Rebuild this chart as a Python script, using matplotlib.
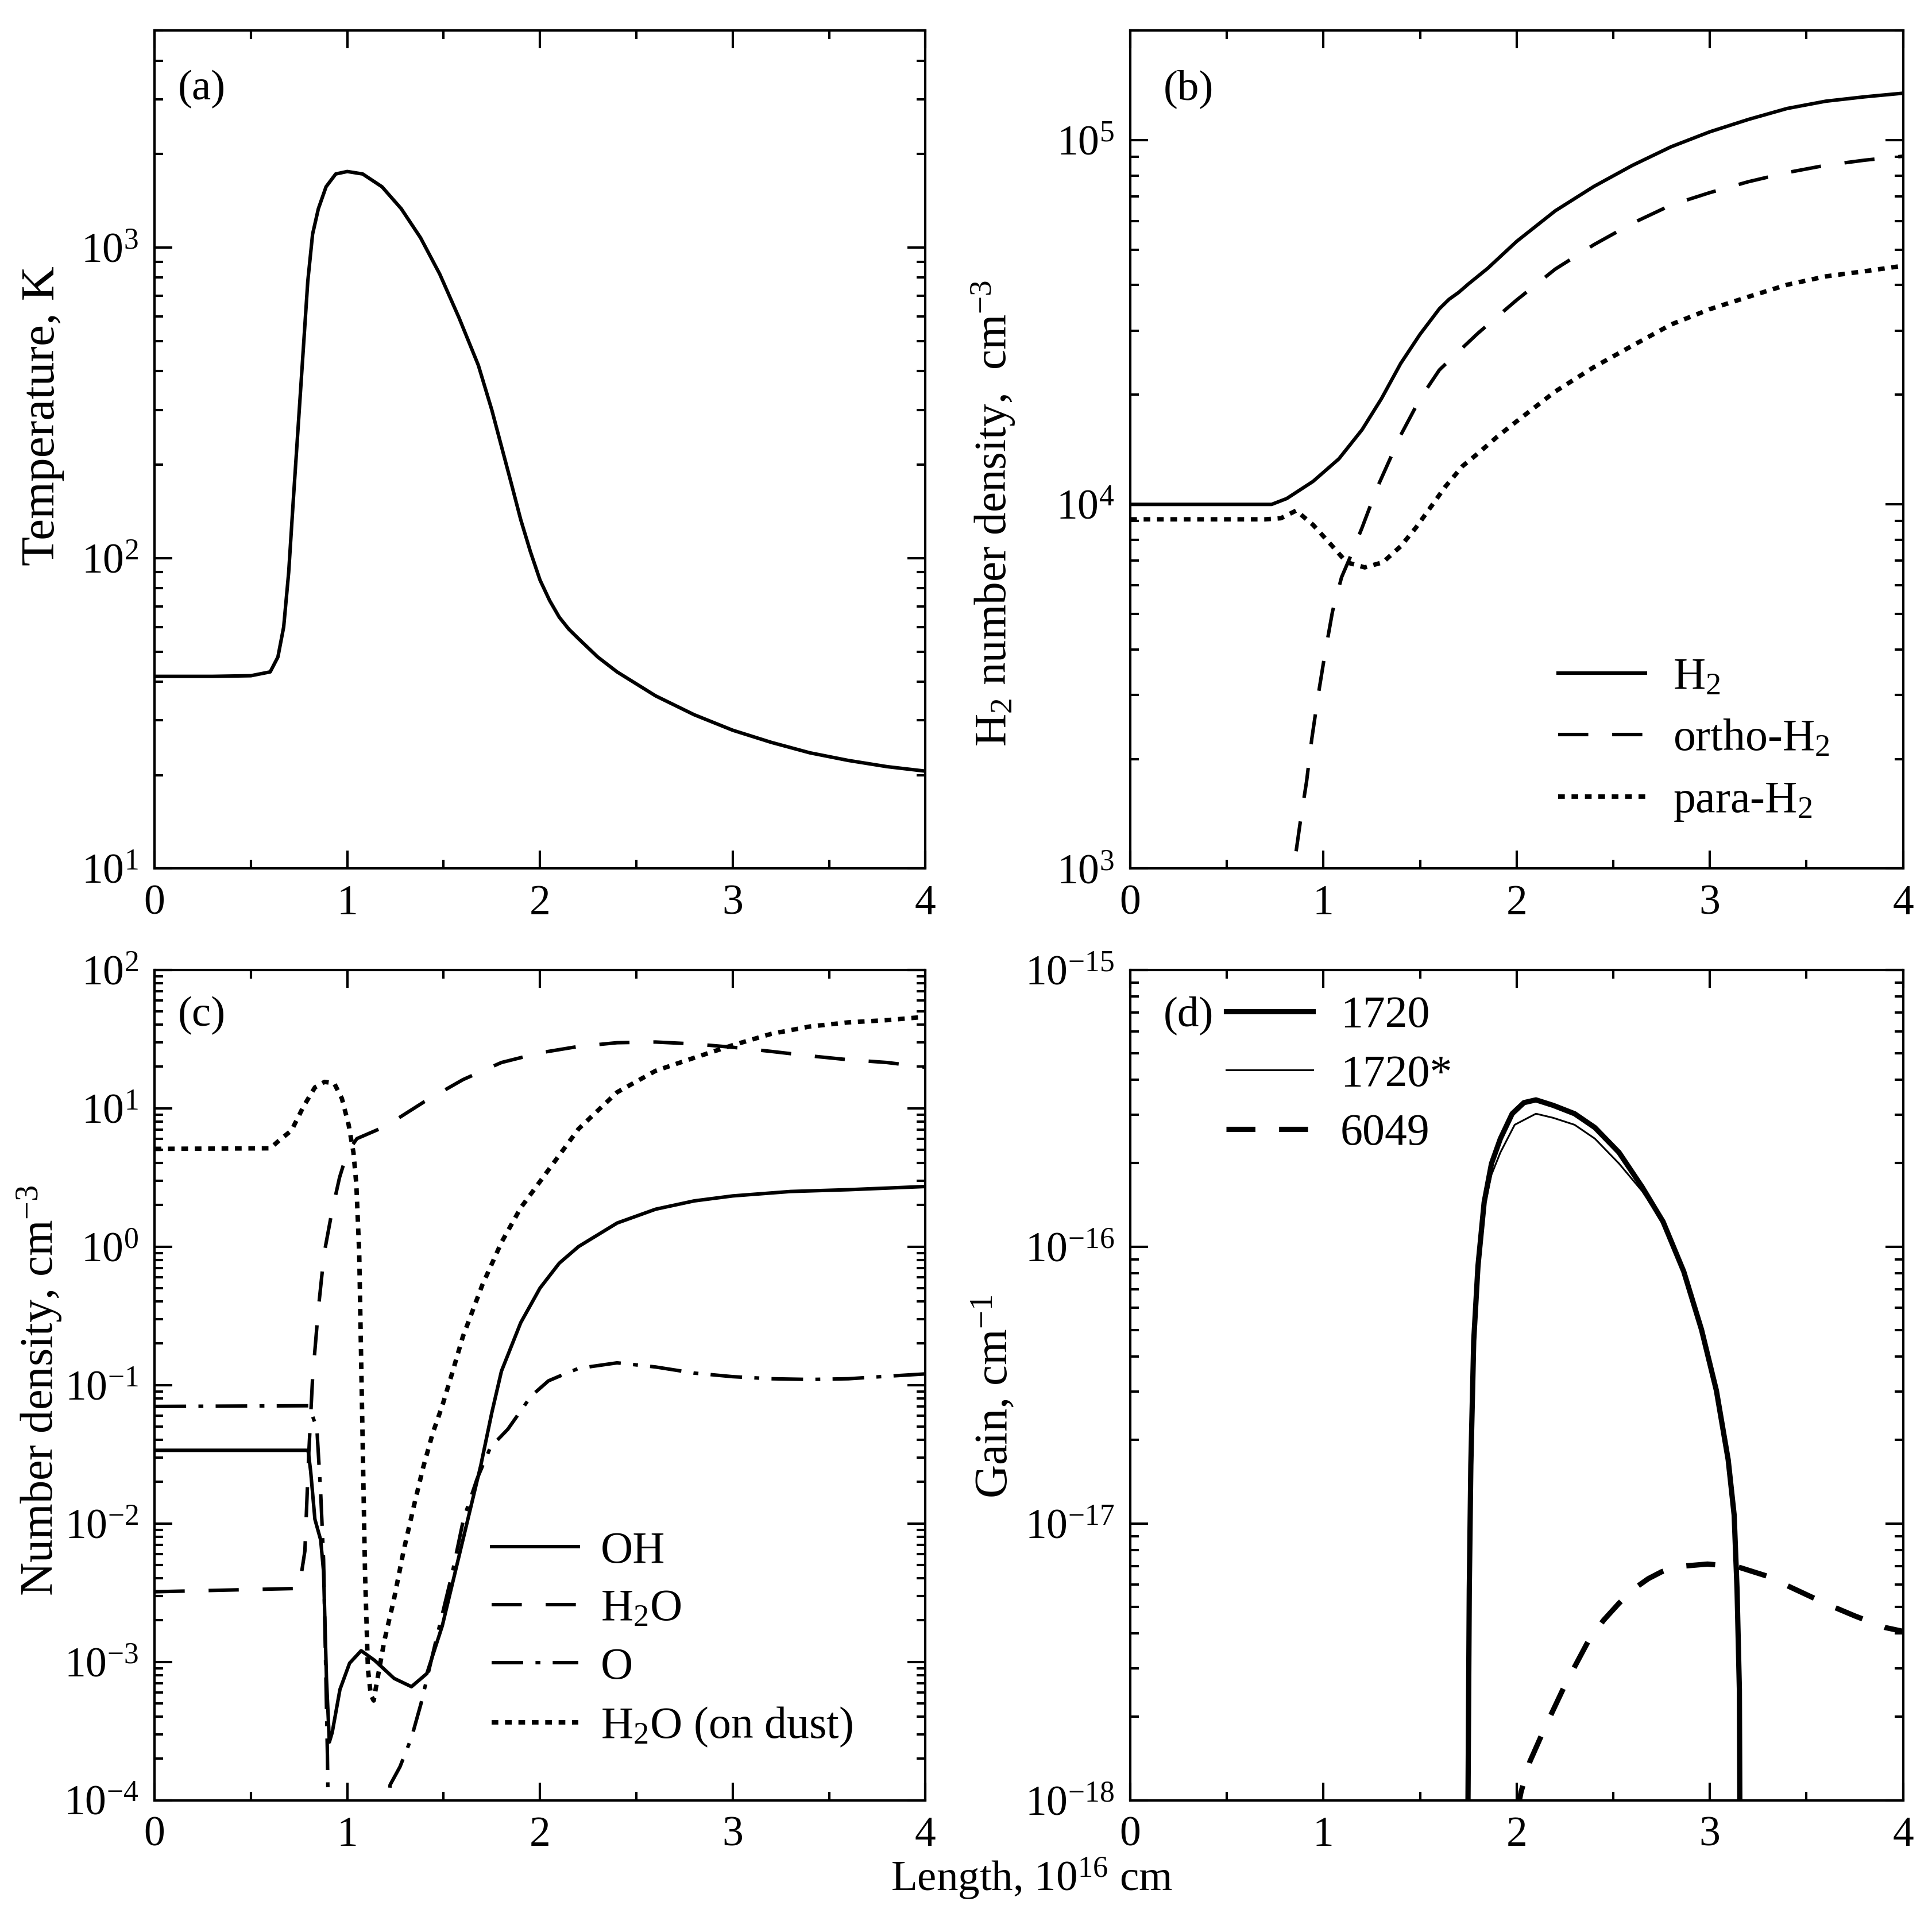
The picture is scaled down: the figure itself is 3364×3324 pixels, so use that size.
import numpy as np
import matplotlib
matplotlib.use("Agg")
import matplotlib.pyplot as plt
from matplotlib.ticker import MultipleLocator, LogLocator, NullFormatter

plt.rcParams['font.family'] = ['Liberation Serif', 'DejaVu Serif']
plt.rcParams['mathtext.fontset'] = 'custom'
plt.rcParams['mathtext.rm'] = 'Liberation Serif'
plt.rcParams['mathtext.it'] = 'Liberation Serif:italic'
plt.rcParams['mathtext.bf'] = 'Liberation Serif:bold'
plt.rcParams['font.size'] = 27
plt.rcParams['axes.linewidth'] = 1.5

# (a) temperature, K
x_T = [0.0, 0.3, 0.5, 0.6, 0.64, 0.67, 0.696, 0.72, 0.745, 0.77, 0.795, 0.82, 0.85, 0.89, 0.94,
       1.0, 1.08, 1.18, 1.28, 1.38, 1.48, 1.58, 1.68, 1.75, 1.8, 1.85, 1.9, 1.95, 2.0, 2.05, 2.1,
       2.15, 2.2, 2.3, 2.4, 2.6, 2.8, 3.0, 3.2, 3.4, 3.6, 3.8, 4.0]
T = [41.6, 41.6, 41.8, 43, 48, 60, 90, 154, 264, 453, 778, 1105, 1334, 1570, 1726,
     1758, 1726, 1570, 1334, 1076, 821, 594, 418, 300, 229, 175, 133, 105, 85, 73, 64.5,
     59, 55, 48, 43, 36, 31.3, 27.9, 25.5, 23.6, 22.3, 21.3, 20.6]

# (b) H2 number density, cm^-3
x_h2 = [0.0, 0.732, 0.81, 0.946, 1.08, 1.2, 1.3, 1.4, 1.5, 1.6, 1.65, 1.7, 1.75, 1.85, 2.0, 2.2,
        2.4, 2.6, 2.8, 3.0, 3.2, 3.4, 3.6, 3.8, 4.0]
lg_h2 = [4.0, 4.0, 4.016, 4.063, 4.125, 4.205, 4.29, 4.387, 4.467, 4.537, 4.563, 4.582, 4.605,
         4.648, 4.722, 4.806, 4.873, 4.931, 4.982, 5.023, 5.057, 5.087, 5.107, 5.119, 5.129]
x_ortho = [0.83, 0.846, 0.88, 0.913, 0.94, 0.973, 1.007, 1.047, 1.094, 1.14, 1.2, 1.28, 1.4, 1.5,
           1.6, 1.7, 1.8, 2.0, 2.2, 2.4, 2.6, 2.8, 3.0, 3.2, 3.4, 3.6, 3.8, 4.0]
lg_ortho = [2.9, 3.0, 3.127, 3.24, 3.357, 3.476, 3.587, 3.706, 3.80, 3.857, 3.936, 4.048, 4.19,
            4.29, 4.369, 4.42, 4.47, 4.561, 4.646, 4.713, 4.772, 4.822, 4.856, 4.886, 4.911,
            4.931, 4.945, 4.956]
x_para = [0.0, 0.7, 0.78, 0.859, 0.946, 1.04, 1.12, 1.214, 1.308, 1.40, 1.48, 1.56, 1.63, 1.72,
          1.8, 1.9, 2.0, 2.2, 2.4, 2.6, 2.8, 3.0, 3.2, 3.4, 3.6, 3.8, 4.0]
lg_para = [3.959, 3.959, 3.962, 3.983, 3.944, 3.889, 3.841, 3.827, 3.841, 3.885, 3.937, 3.996,
           4.048, 4.105, 4.14, 4.186, 4.228, 4.31, 4.377, 4.436, 4.494, 4.536, 4.57, 4.603,
           4.626, 4.64, 4.655]

# (c) number densities, log10 cm^-3
x_oh = [0.0, 0.787, 0.797, 0.81, 0.832, 0.862, 0.877, 0.892, 0.907, 0.922, 0.962, 1.012, 1.072,
        1.142, 1.243, 1.333, 1.413, 1.493, 1.593, 1.693, 1.75, 1.8, 1.9, 2.0, 2.1, 2.2, 2.4, 2.6,
        2.8, 3.0, 3.3, 3.6, 4.0]
lg_oh = [-1.472, -1.472, -1.475, -1.623, -1.97, -2.12, -2.35, -3.12, -3.58, -3.51, -3.2, -3.01,
         -2.92, -2.99, -3.12, -3.18, -3.085, -2.74, -2.16, -1.58, -1.2, -0.9, -0.55, -0.3, -0.12,
         0.0, 0.17, 0.27, 0.33, 0.366, 0.398, 0.411, 0.434]
x_h2o = [0.0, 0.75, 0.78, 0.8, 0.82, 0.85, 0.88, 0.92, 0.96, 1.0, 1.05, 1.1, 1.2, 1.4, 1.6, 1.8,
         2.0, 2.2, 2.4, 2.6, 2.8, 3.0, 3.2, 3.4, 3.6, 3.8, 4.0]
lg_h2o = [-2.494, -2.47, -2.2, -1.5, -0.95, -0.45, -0.05, 0.25, 0.5, 0.68, 0.78, 0.81, 0.87, 1.047,
          1.206, 1.33, 1.40, 1.446, 1.473, 1.478, 1.464, 1.44, 1.41, 1.378, 1.35, 1.33, 1.296]
x_o = [0.0, 0.8, 0.842, 0.862, 0.877, 0.897, 0.91, 1.17, 1.222, 1.273, 1.333, 1.383, 1.463, 1.543,
       1.603, 1.673, 1.743, 1.833, 1.954, 2.044, 2.1, 2.2, 2.4, 2.6, 2.8, 3.0, 3.2, 3.4, 3.6, 3.8,
       4.0]
lg_o = [-1.155, -1.15, -1.31, -1.78, -2.26, -3.68, -5.0, -5.0, -3.89, -3.76, -3.55, -3.30, -2.83,
        -2.37, -1.97, -1.68, -1.45, -1.32, -1.08, -0.97, -0.937, -0.88, -0.84, -0.87, -0.914,
        -0.94, -0.955, -0.96, -0.955, -0.937, -0.92]
x_dust = [0.0, 0.6, 0.641, 0.711, 0.772, 0.832, 0.882, 0.932, 0.972, 1.007, 1.032, 1.047, 1.062,
          1.072, 1.082, 1.092, 1.107, 1.122, 1.137, 1.152, 1.192, 1.242, 1.292, 1.343, 1.393,
          1.443, 1.493, 1.543, 1.6, 1.7, 1.8, 1.9, 2.0, 2.2, 2.4, 2.6, 2.8, 3.0, 3.2, 3.4, 3.6,
          3.8, 4.0]
lg_dust = [0.706, 0.71, 0.76, 0.84, 1.01, 1.15, 1.19, 1.18, 1.07, 0.88, 0.68, 0.45, -0.05, -0.82,
           -1.58, -2.35, -3.05, -3.24, -3.28, -3.16, -2.85, -2.55, -2.2, -1.89, -1.6, -1.35,
           -1.15, -0.92, -0.65, -0.28, 0.03, 0.28, 0.47, 0.85, 1.115, 1.27, 1.364, 1.455, 1.537,
           1.59, 1.62, 1.636, 1.66]

# (d) gain, log10 cm^-1
x_g1 = [1.744, 1.755, 1.763, 1.778, 1.80, 1.832, 1.87, 1.916, 1.977, 2.038, 2.10, 2.19, 2.30,
        2.405, 2.53, 2.65, 2.758, 2.865, 2.957, 3.034, 3.095, 3.126, 3.141, 3.153, 3.158]
lg_g1 = [-18.5, -17.24, -16.79, -16.34, -16.07, -15.84, -15.70, -15.61, -15.52, -15.48, -15.47,
         -15.49, -15.52, -15.57, -15.66, -15.785, -15.91, -16.09, -16.30, -16.52, -16.77, -16.97,
         -17.24, -17.6, -18.5]
x_g2 = [1.746, 1.757, 1.765, 1.78, 1.802, 1.832, 1.87, 1.916, 1.99, 2.10, 2.19, 2.30, 2.405, 2.53,
        2.65, 2.758, 2.865, 2.957, 3.034, 3.097, 3.128, 3.144, 3.157, 3.163]
lg_g2 = [-18.5, -17.24, -16.79, -16.34, -16.08, -15.86, -15.74, -15.66, -15.56, -15.52, -15.535,
         -15.56, -15.61, -15.70, -15.80, -15.915, -16.09, -16.30, -16.52, -16.77, -16.97, -17.24,
         -17.6, -18.5]
x_g3 = [2.0, 2.023, 2.069, 2.145, 2.253, 2.375, 2.45, 2.528, 2.6, 2.681, 2.75, 2.835, 2.988, 3.14,
        3.294, 3.447, 3.6, 3.753, 3.906, 4.0]
lg_g3 = [-18.05, -17.97, -17.86, -17.74, -17.58, -17.42, -17.35, -17.29, -17.24, -17.2, -17.175,
         -17.156, -17.147, -17.156, -17.19, -17.24, -17.29, -17.335, -17.376, -17.39]

LW = 2.2
DOT_LW = 2.8
DASH = (0, (8.6, 6.8))
DOT = (0, (1.5, 1.5))
DASHDOT = (0, (9, 3.5, 1.4, 3.5))

fig = plt.figure(figsize=(16.82, 16.62), dpi=200)
axA = fig.add_axes([0.080, 0.545, 0.399, 0.439])
axB = fig.add_axes([0.585, 0.545, 0.400, 0.439])
axC = fig.add_axes([0.080, 0.057, 0.399, 0.435])
axD = fig.add_axes([0.585, 0.057, 0.400, 0.435])

axA.plot(x_T, T, color='k', lw=LW)
axA.set_ylim(10, 5000)

axB.plot(x_h2, 10**np.array(lg_h2), color='k', lw=LW, label='H$_2$')
axB.plot(x_ortho, 10**np.array(lg_ortho), color='k', lw=LW, ls=DASH, label='ortho-H$_2$')
axB.plot(x_para, 10**np.array(lg_para), color='k', lw=DOT_LW, ls=DOT, label='para-H$_2$')
axB.set_ylim(1e3, 2e5)

axC.plot(x_oh, 10**np.array(lg_oh), color='k', lw=LW, label='OH')
axC.plot(x_h2o, 10**np.array(lg_h2o), color='k', lw=LW, ls=DASH, label='H$_2$O')
axC.plot(x_o, 10**np.array(lg_o), color='k', lw=LW, ls=DASHDOT, label='O')
axC.plot(x_dust, 10**np.array(lg_dust), color='k', lw=DOT_LW, ls=DOT, label='H$_2$O (on dust)')
axC.set_ylim(1e-4, 1e2)

axD.plot(x_g1, 10**np.array(lg_g1), color='k', lw=3.3, label='1720')
axD.plot(x_g2, 10**np.array(lg_g2), color='k', lw=1.1, label='1720*')
axD.plot(x_g3, 10**np.array(lg_g3), color='k', lw=3.3, ls=(0, (5.5, 4.5)), label='6049')
axD.set_ylim(1e-18, 1e-15)

for ax in [axA, axB, axC, axD]:
    ax.set_yscale('log')
    ax.set_xlim(0, 4)
    ax.xaxis.set_major_locator(MultipleLocator(1))
    ax.xaxis.set_minor_locator(MultipleLocator(0.5))
    ax.yaxis.set_major_locator(LogLocator(base=10, numticks=20))
    ax.yaxis.set_minor_locator(LogLocator(base=10, subs=np.arange(2, 10), numticks=20))
    ax.yaxis.set_minor_formatter(NullFormatter())
    ax.tick_params(which='both', direction='in', top=True, right=True, width=1.5)
    ax.tick_params(which='major', length=11, pad=10, labelsize=26.5)
    ax.tick_params(which='minor', length=5.5)

axA.text(0.03, 0.93, '(a)', transform=axA.transAxes, fontsize=27, va='center')
axB.text(0.043, 0.93, '(b)', transform=axB.transAxes, fontsize=27, va='center')
axC.text(0.03, 0.945, '(c)', transform=axC.transAxes, fontsize=27, va='center')
axD.text(0.043, 0.945, '(d)', transform=axD.transAxes, fontsize=27, va='center')

axA.set_ylabel('Temperature, K', fontsize=30)
axB.set_ylabel('H$_2$ number density,  cm$^{-3}$', fontsize=28.5)
axC.set_ylabel('Number density, cm$^{-3}$', fontsize=29)
axD.set_ylabel('Gain, cm$^{-1}$', fontsize=29)
axA.yaxis.set_label_coords(-0.117, 0.54)
axC.yaxis.set_label_coords(-0.117, 0.493)
axB.yaxis.set_label_coords(-0.146, 0.424)
axD.yaxis.set_label_coords(-0.146, 0.486)

leg_kw = dict(frameon=False, loc='upper left', borderaxespad=0, borderpad=0,
              handlelength=1.95, fontsize=28)
axB.legend(bbox_to_anchor=(0.554, 0.252), labelspacing=0.46, handletextpad=0.61, **leg_kw)
axC.legend(bbox_to_anchor=(0.437, 0.324), labelspacing=0.38, handletextpad=0.5, **leg_kw)
axD.legend(bbox_to_anchor=(0.124, 0.969), labelspacing=0.4, handletextpad=0.61, **leg_kw)

fig.text(0.534, 0.016, 'Length, 10$^{16}$ cm', ha='center', va='center', fontsize=27)

fig.savefig('out.png', dpi=200)
